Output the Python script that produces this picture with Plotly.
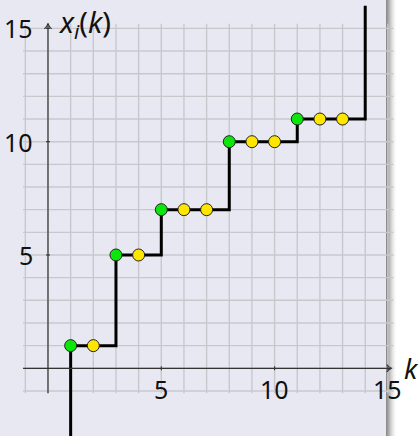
import plotly.graph_objects as go

# Trajectory of x_i(k): steps at the "green" instants, holds in between
green_k = [1, 3, 5, 8, 11]
green_x = [1, 5, 7, 10, 11]
yellow_k = [2, 4, 6, 7, 9, 10, 12, 13]
yellow_x = [1, 5, 7, 7, 10, 10, 11, 11]

# Staircase path (vertical jumps at the green instants)
path_k = [1, 1, 3, 3, 5, 5, 8, 8, 11, 11, 14, 14]
path_x = [-4, 1, 1, 5, 5, 7, 7, 10, 10, 11, 11, 16]

tick_vals = [5, 10, 15]
tick_text = ["5", "10", "15"]

FONT = "Noto Sans"
BG = "#e8e8f2"
GRID = "#c8c8cc"
AXIS = "#333333"

W, H = 419, 436
x_range = [-2.118, 16.373]
y_range = [-2.988, 16.253]
gmin, gmax_x, gmax_y = -1.1, 15.25, 15.2

shapes = []
# slide background and its right-edge shadow
shapes.append(dict(type="rect", xref="paper", yref="paper", x0=0, x1=386 / W, y0=0, y1=1,
                   fillcolor=BG, line_width=0, layer="below"))

# grid
for v in range(-1, 16):
    shapes.append(dict(type="line", xref="x", yref="y", x0=v, x1=v, y0=gmin, y1=gmax_y,
                       line=dict(color=GRID, width=1.4), layer="below"))
    shapes.append(dict(type="line", xref="x", yref="y", x0=gmin, x1=gmax_x, y0=v, y1=v,
                       line=dict(color=GRID, width=1.4), layer="below"))

shadow = ["#8c8c8c", "#9a9a9a", "#a8a8a8", "#b8b8b8", "#c8c8c8", "#d6d6d6",
          "#e2e2e2", "#ececec", "#f4f4f4", "#fafafa"]
for i, c in enumerate(shadow):
    shapes.append(dict(type="rect", xref="paper", yref="paper",
                       x0=(386 + i) / W, x1=(387 + i) / W, y0=0, y1=1,
                       fillcolor=c, line_width=0, layer="below"))

# axes with arrow heads
shapes.append(dict(type="line", xref="x", yref="y", x0=-1.1, x1=15.15, y0=0, y1=0,
                   line=dict(color=AXIS, width=1.2)))
shapes.append(dict(type="line", xref="x", yref="y", x0=0, x1=0, y0=-1.1, y1=15.2,
                   line=dict(color=AXIS, width=1.2)))
shapes.append(dict(type="path", xref="x", yref="y",
                   path="M 14.95,0.16 Q 15.05,0.03 15.17,0 Q 15.05,-0.03 14.95,-0.16",
                   line=dict(color=AXIS, width=1.1)))
shapes.append(dict(type="path", xref="x", yref="y",
                   path="M -0.16,14.98 Q -0.03,15.08 0,15.22 Q 0.03,15.08 0.16,14.98",
                   line=dict(color=AXIS, width=1.1)))
for t in tick_vals:
    shapes.append(dict(type="line", xref="x", yref="y", x0=t, x1=t, y0=-0.09, y1=0.09,
                       line=dict(color=AXIS, width=1.1)))
    shapes.append(dict(type="line", xref="x", yref="y", x0=-0.09, x1=0.09, y0=t, y1=t,
                       line=dict(color=AXIS, width=1.1)))

fig = go.Figure()
fig.add_trace(go.Scatter(x=path_k, y=path_x, mode="lines",
                         line=dict(color="black", width=3), hoverinfo="skip"))
fig.add_trace(go.Scatter(x=green_k, y=green_x, mode="markers",
                         marker=dict(size=12, color="#0be60b",
                                     line=dict(color="#222222", width=1))))
fig.add_trace(go.Scatter(x=yellow_k, y=yellow_x, mode="markers",
                         marker=dict(size=12, color="#ffe600",
                                     line=dict(color="#222222", width=1))))

annotations = []
for v, s in zip(tick_vals, tick_text):
    annotations.append(dict(x=v, y=0, xref="x", yref="y", text=s, showarrow=False,
                            xanchor="center", yanchor="middle", yshift=-21,
                            font=dict(family=FONT, size=25, color="#111111")))
    annotations.append(dict(x=0, y=v, xref="x", yref="y", text=s, showarrow=False,
                            xanchor="right", yanchor="middle", xshift=-13,
                            font=dict(family=FONT, size=25, color="#111111")))
annotations.append(dict(x=0, y=15, xref="x", yref="y",
                        text="<i>x</i><sub><i>i</i></sub>(<i>k</i>)", showarrow=False,
                        xanchor="left", yanchor="middle", xshift=8, yshift=5,
                        font=dict(family=FONT, size=29, color="#111111")))
annotations.append(dict(x=15, y=0, xref="x", yref="y", text="<i>k</i>", showarrow=False,
                        xanchor="center", yanchor="middle", xshift=24, yshift=0,
                        font=dict(family=FONT, size=27, color="#111111")))

fig.update_layout(
    width=W, height=H,
    margin=dict(l=0, r=0, t=0, b=0),
    paper_bgcolor="white", plot_bgcolor="rgba(0,0,0,0)",
    showlegend=False,
    shapes=shapes, annotations=annotations,
    xaxis=dict(range=x_range, visible=False, fixedrange=True),
    yaxis=dict(range=y_range, visible=False, fixedrange=True),
)

fig.write_html("out.html", config={"displayModeBar": False})
